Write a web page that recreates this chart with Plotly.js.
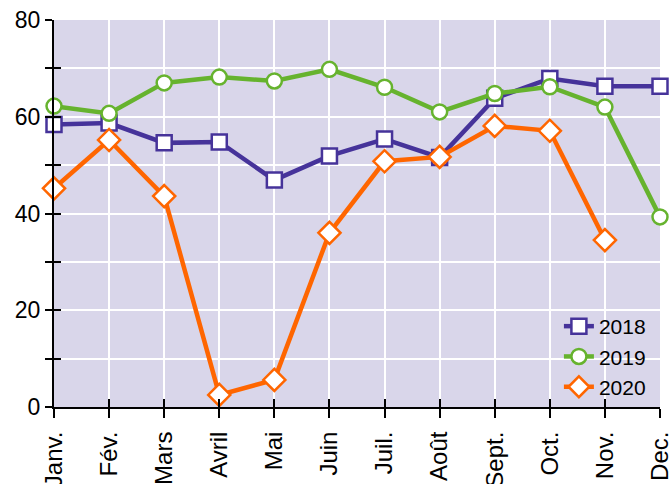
<!DOCTYPE html>
<html>
<head>
<meta charset="utf-8">
<script src="https://cdn.plot.ly/plotly-3.0.1.min.js"></script>
<style>html,body{margin:0;padding:0;background:#fff;}#chart{width:671px;height:484px;}</style>
</head>
<body>
<div id="chart"></div>
<script>
const months = ["Janv.", "Fév.", "Mars", "Avril", "Mai", "Juin", "Juil.", "Août", "Sept.", "Oct.", "Nov.", "Dec."];
const s2018 = [58.4, 58.7, 54.6, 54.8, 46.9, 51.9, 55.4, 51.6, 63.8, 67.9, 66.3, 66.3];
const s2019 = [62.2, 60.7, 67.0, 68.2, 67.4, 69.8, 66.1, 61.0, 64.8, 66.2, 62.0, 39.3];
const s2020 = [45.2, 55.2, 43.6, 2.5, 5.6, 36.0, 50.8, 51.7, 58.1, 57.1, 34.5, null];
const yTickVals = [0, 10, 20, 30, 40, 50, 60, 70, 80];
const yTickText = ["0", "", "20", "", "40", "", "60", "", "80"];

const idx = months.map((m, i) => i);
const font = "Liberation Sans, Arial, sans-serif";

function tr(name, y, color, symbol, size) {
  return {
    x: idx, y: y, name: name, type: "scatter", mode: "lines+markers",
    cliponaxis: false,
    line: {color: color, width: 4.5},
    marker: {symbol: symbol, size: size, color: "#ffffff", line: {color: color, width: 2.5}}
  };
}

const data = [
  tr("2018", s2018, "#46339a", "square", 15),
  tr("2019", s2019, "#66b32e", "circle", 15),
  tr("2020", s2020, "#ff6600", "diamond", 17),
  {x: [0], y: [0], xaxis: "x2", yaxis: "y2", showlegend: false, hoverinfo: "skip",
   mode: "markers", marker: {opacity: 0}}
];

const layout = {
  width: 671, height: 484,
  margin: {l: 54, r: 11, t: 20, b: 77},
  paper_bgcolor: "#ffffff",
  plot_bgcolor: "#d9d6ea",
  font: {family: font, color: "#000000", size: 22},
  showlegend: true,
  legend: {x: 0.985, xanchor: "right", y: 0, yanchor: "bottom",
           bgcolor: "rgba(0,0,0,0)", font: {size: 21, family: font}, tracegroupgap: 0},
  xaxis: {
    range: [0, 11], tickvals: idx, ticktext: months, tickangle: -90,
    ticklabeloverflow: "allow", ticklabelstandoff: 4,
    showgrid: true, gridcolor: "#ffffff", gridwidth: 2,
    zeroline: false, showline: true, linecolor: "#000000", linewidth: 2,
    ticks: "outside", ticklen: 9, tickwidth: 2, tickcolor: "#000000",
    tickfont: {size: 24, family: font}, fixedrange: true
  },
  yaxis: {
    range: [0, 80], tickvals: yTickVals, ticktext: yTickText,
    showgrid: true, gridcolor: "#ffffff", gridwidth: 2,
    zeroline: false, showline: true, linecolor: "#000000", linewidth: 2,
    ticks: "outside", ticklen: 7, tickwidth: 2, tickcolor: "#000000",
    tickfont: {size: 23, family: font}, fixedrange: true
  },
  xaxis2: {
    overlaying: "x", range: [0, 11], tickvals: idx, showticklabels: false,
    showgrid: false, zeroline: false, showline: false,
    ticks: "inside", ticklen: 8, tickwidth: 2, tickcolor: "#000000", side: "bottom", anchor: "y2"
  },
  yaxis2: {
    overlaying: "y", range: [0, 80], tickvals: yTickVals, showticklabels: false,
    showgrid: false, zeroline: false, showline: false,
    ticks: "inside", ticklen: 7, tickwidth: 2, tickcolor: "#000000", side: "left", anchor: "x2"
  }
};

Plotly.newPlot("chart", data, layout, {staticPlot: true, displayModeBar: false});
</script>
</body>
</html>
